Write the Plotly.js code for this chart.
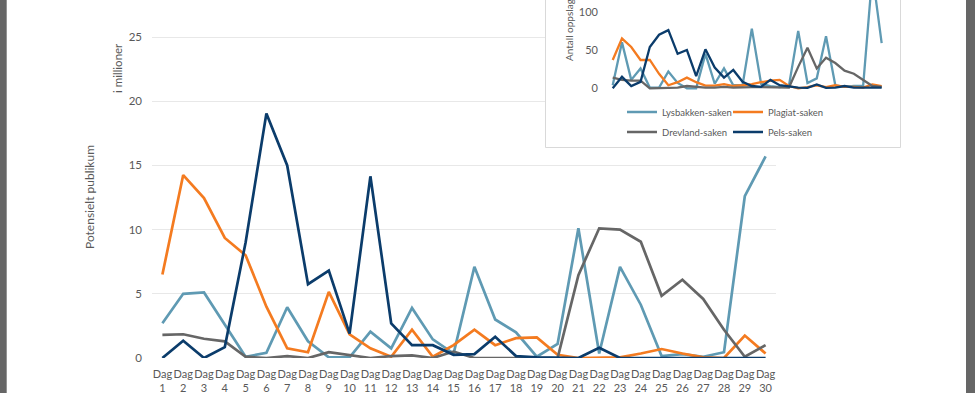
<!DOCTYPE html>
<html><head><meta charset="utf-8">
<script src="https://cdn.plot.ly/plotly-3.0.1.min.js"></script>
<style>html,body{margin:0;padding:0;background:#fff}#chart{width:975px;height:393px}</style>
</head><body><div id="chart"></div>
<script>
const days = ["Dag<br>1","Dag<br>2","Dag<br>3","Dag<br>4","Dag<br>5","Dag<br>6","Dag<br>7","Dag<br>8","Dag<br>9","Dag<br>10",
 "Dag<br>11","Dag<br>12","Dag<br>13","Dag<br>14","Dag<br>15","Dag<br>16","Dag<br>17","Dag<br>18","Dag<br>19","Dag<br>20",
 "Dag<br>21","Dag<br>22","Dag<br>23","Dag<br>24","Dag<br>25","Dag<br>26","Dag<br>27","Dag<br>28","Dag<br>29","Dag<br>30"];
const seriesNames = ["Lysbakken-saken","Plagiat-saken","Drevland-saken","Pels-saken"];
const seriesColors = ["#5F9AB3","#F47B20","#666666","#0B3C6B"];

// Potensielt publikum (i millioner)
const lysMain = [2.7,5.0,5.1,2.6,0.1,0.4,3.95,1.3,0.05,0.05,2.05,0.75,3.9,1.45,0.35,7.1,3.0,2.0,0.1,1.1,10.1,0.35,7.1,4.15,0.15,0.3,0.1,0.45,12.6,15.7];
const plaMain = [6.5,14.25,12.45,9.35,8.0,4.0,0.75,0.45,5.15,1.85,0.75,0.1,2.2,0.1,1.0,2.2,1.0,1.55,1.6,0.25,0,0.05,0.05,0.35,0.7,0.35,0.05,0,1.75,0.35];
const dreMain = [1.8,1.85,1.5,1.3,0.1,0,0.15,0,0.45,0.2,0,0.15,0.2,0,0.5,0,0,0,0,0,6.45,10.1,10.0,9.05,4.85,6.1,4.6,2.2,0.1,1.0];
const pelMain = [0,1.35,0,0.85,9.0,19.05,15.0,5.75,6.8,1.9,14.15,2.7,1.0,1.0,0.25,0.3,1.65,0.15,0.05,0,0,0.8,0,0,0,0,0,0,0,0];

// Antall oppslag (inset)
const lysIns = [4,60,11,26,1,1,22,7,0,0,45,6,26,4,4,78,6,3,1.5,3,75,7,13,68,4,2,3,3,150,59];
const plaIns = [37,65,54,37,37,19,4,8,14,8,3.5,3.5,5.5,3,4,5.5,8,10,11,3,0,1.5,4,1.5,4,2,2,1,5,3];
const dreIns = [14,11,10,10,0,0.5,1,1,3,2,1,1,2,1,1.5,1.5,1.5,1.5,1,1,28,53,26,40,33,23,19,11,3,2];
const pelIns = [0,15,3,8.5,54,70,76,45,50,16,51,27,14,24,8.5,3,2,11,4,2,1,0.5,5,0.5,1,3,1,1,1,1];

const mainY = [lysMain, plaMain, dreMain, pelMain];
const insY = [lysIns, plaIns, dreIns, pelIns];
const W = 975, H = 393;
const FONT = "Lato, 'Open Sans', sans-serif";
const TXT = "#595959";

const traces = [];
mainY.forEach((ys, i) => traces.push({
  x: days, y: ys, type: "scatter", mode: "lines", name: seriesNames[i],
  line: {color: seriesColors[i], width: 2.7}, showlegend: false, xaxis: "x", yaxis: "y", hoverinfo: "skip"
}));
insY.forEach((ys, i) => traces.push({
  x: days, y: ys, type: "scatter", mode: "lines", name: seriesNames[i],
  line: {color: seriesColors[i], width: 2.3}, showlegend: true,
  legend: i < 2 ? "legend" : "legend2", xaxis: "x2", yaxis: "y2", hoverinfo: "skip"
}));

const legendCommon = {
  orientation: "h", bgcolor: "rgba(0,0,0,0)", borderwidth: 0,
  font: {family: FONT, size: 9.5, color: TXT}, itemwidth: 30, entrywidth: 61,
  xanchor: "left", yanchor: "middle", tracegroupgap: 0, itemclick: false
};

const layout = {
  width: W, height: H, margin: {l: 0, r: 0, t: 0, b: 0},
  paper_bgcolor: "#fff", plot_bgcolor: "#fff",
  font: {family: FONT, color: TXT},
  xaxis: {
    domain: [152 / W, 776 / W], type: "category", range: [-0.5, 29.5],
    showgrid: false, zeroline: false, showline: false, ticks: "", tickangle: 0,
    tickfont: {family: FONT, size: 11, color: TXT}, ticklabelstandoff: 8, anchor: "y"
  },
  yaxis: {
    domain: [35 / H, 1], range: [0, 358 / 12.84], tickvals: [0, 5, 10, 15, 20, 25],
    showgrid: true, gridcolor: "#E8E8E8", gridwidth: 1, zeroline: false, showline: false, ticks: "",
    tickfont: {family: FONT, size: 11.5, color: TXT}, ticklabelstandoff: 9, anchor: "x"
  },
  xaxis2: {
    domain: [545 / W, 900.5 / W], type: "category", range: [-7.30, 31.03],
    showgrid: false, zeroline: false, showline: false, showticklabels: false, ticks: "", anchor: "y2"
  },
  yaxis2: {
    domain: [(H - 147) / H, 1], range: [-76.6, 115.3], tickvals: [0, 50, 100],
    showgrid: false, zeroline: false, showline: false, ticks: "",
    anchor: "free", position: 598 / W,
    tickfont: {family: FONT, size: 11, color: TXT}
  },
  legend: Object.assign({x: 622 / W, y: (H - 112) / H}, legendCommon),
  legend2: Object.assign({x: 622 / W, y: (H - 132) / H}, legendCommon),
  annotations: [
    {text: "Potensielt publikum", xref: "paper", yref: "paper", x: 89 / W, y: (H - 197) / H,
     xanchor: "center", yanchor: "middle",
     textangle: -90, showarrow: false, font: {family: FONT, size: 12, color: TXT}},
    {text: "i millioner", xref: "paper", yref: "paper", x: 117 / W, y: (H - 68) / H,
     xanchor: "center", yanchor: "middle",
     textangle: -90, showarrow: false, font: {family: FONT, size: 11.5, color: TXT}},
    {text: "Antall oppslag", xref: "paper", yref: "paper", x: 569 / W, y: (H - 30) / H,
     xanchor: "center", yanchor: "middle",
     textangle: -90, showarrow: false, font: {family: FONT, size: 10, color: TXT}}
  ],
  shapes: [
    {type: "rect", xref: "paper", yref: "paper", x0: 545.5 / W, x1: 900.5 / W, y0: (H - 147.5) / H, y1: 1.01,
     line: {color: "#D9D9D9", width: 1}, fillcolor: "rgba(0,0,0,0)", layer: "above"},
    {type: "rect", xref: "paper", yref: "paper", x0: 0, x1: 6.7 / W, y0: 0, y1: 1,
     line: {width: 0}, fillcolor: "#666666", layer: "above"},
    {type: "rect", xref: "paper", yref: "paper", x0: 966 / W, x1: 1, y0: 0, y1: 1,
     line: {width: 0}, fillcolor: "#666666", layer: "above"}
  ]
};

Plotly.newPlot("chart", traces, layout, {staticPlot: true, displayModeBar: false});
</script></body></html>
